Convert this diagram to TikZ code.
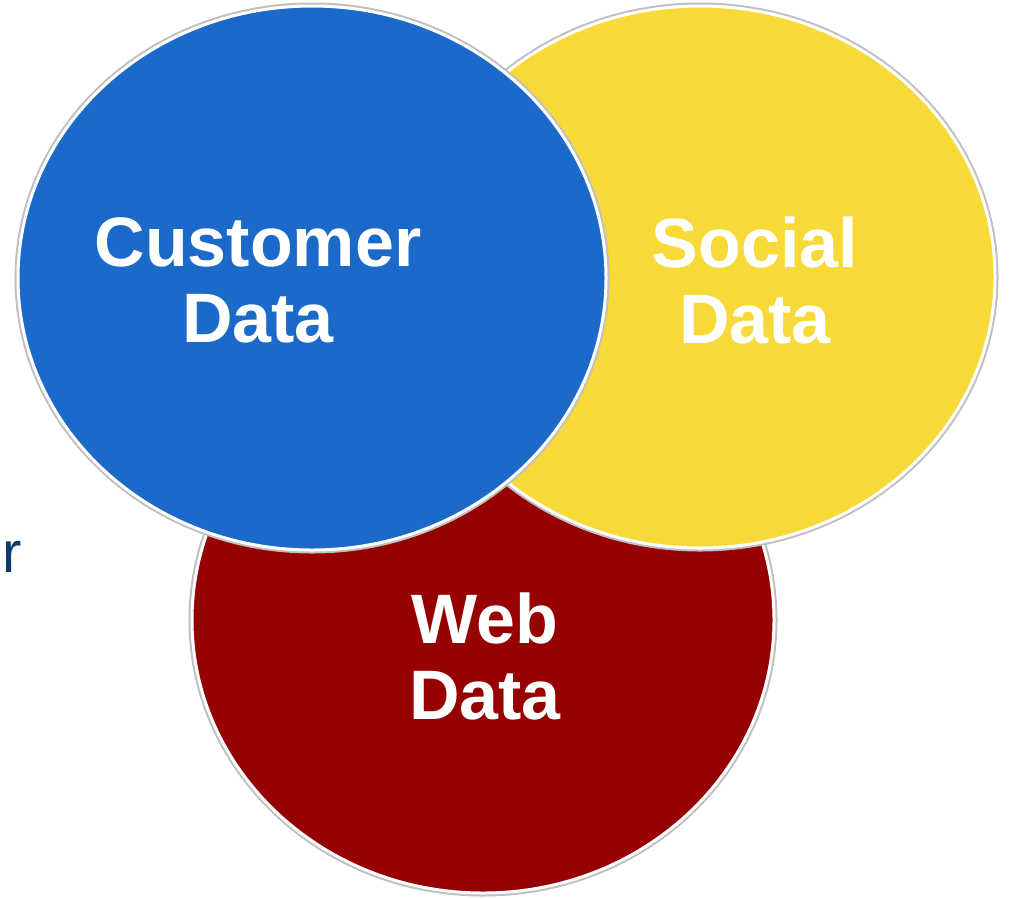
\documentclass[tikz,border=0pt]{standalone}
\usepackage{fontspec}
\setmainfont{Liberation Sans}
\usetikzlibrary{shapes.geometric}
\definecolor{custblue}{HTML}{1B6AC9}
\definecolor{socyellow}{HTML}{F7DA38}
\definecolor{webred}{HTML}{960000}
\definecolor{stray}{HTML}{0B3A6E}
\tikzset{
    blob/.style={ellipse,draw=white,line width=3pt,inner sep=0pt,
        preaction={draw=black!25,line width=7pt}},
    lbl/.style={text=white,font=\bfseries\fontsize{70}{76}\selectfont,align=center,inner sep=0pt},
}
\begin{document}
\begin{tikzpicture}[x=1pt,y=-1pt]
\useasboundingbox (0,0) rectangle (1011,898);
% circles, back to front
\node[blob,fill=webred,minimum width=582pt,minimum height=546pt] (web) at (483,620) {};
\node[blob,fill=socyellow,minimum width=590pt,minimum height=542pt] (social) at (700,277) {};
\node[blob,fill=custblue,minimum width=588pt,minimum height=544pt] (customer) at (312,278) {};
% labels
\node[lbl] (custtxt) at (258,280) {Customer\\Data};
\node[lbl] (soctxt) at (755,280) {Social\\Data};
\node[lbl] (webtxt) at (485,656) {Web\\Data};
\node[text=stray,font=\fontsize{58}{60}\selectfont,anchor=base west,inner sep=0pt] (rr) at (2,572) {r};
\end{tikzpicture}
\end{document}
